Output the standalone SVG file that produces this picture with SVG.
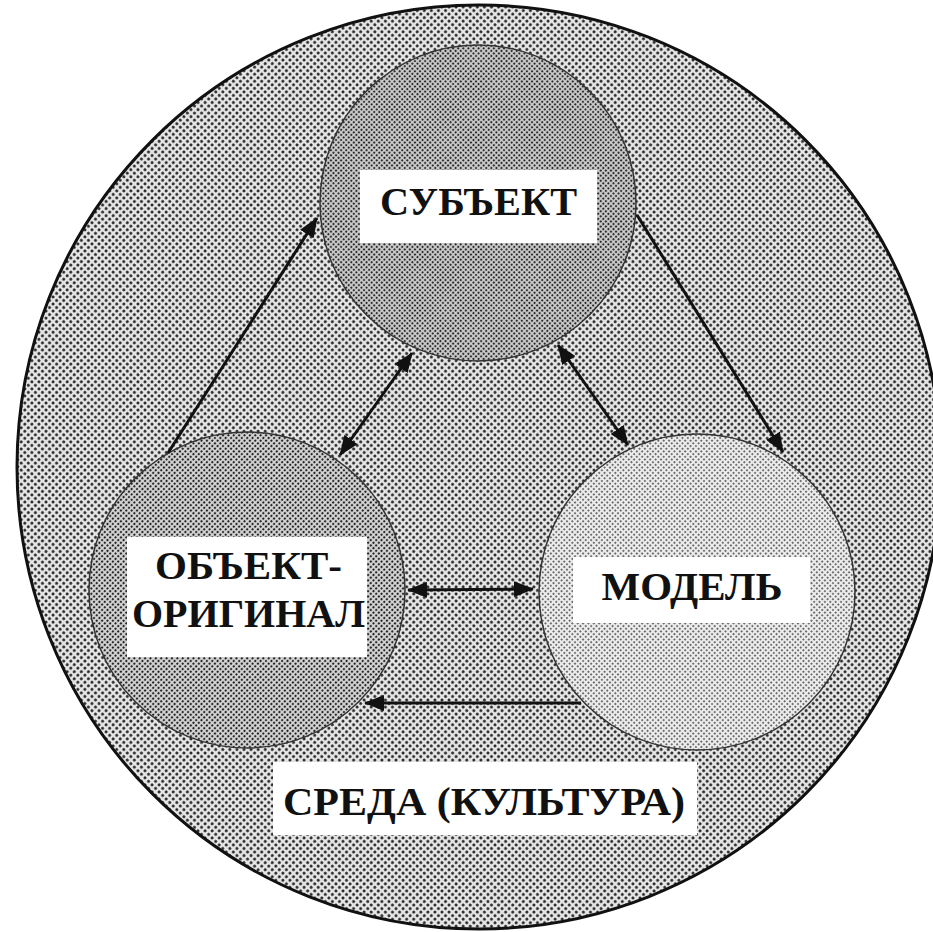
<svg xmlns="http://www.w3.org/2000/svg" width="933" height="932" viewBox="0 0 933 932">
<defs>
<pattern id="pOuter" width="5" height="5" patternUnits="userSpaceOnUse" patternTransform="rotate(45)">
<rect width="5" height="5" fill="#e6e6e6"/><circle cx="2.5" cy="2.5" r="1.45" fill="#1e1e1e"/>
</pattern>
<pattern id="pSubj" width="3.6" height="3.6" patternUnits="userSpaceOnUse" patternTransform="rotate(45)">
<rect width="3.6" height="3.6" fill="#cdcdcd"/><circle cx="1.8" cy="1.8" r="1.15" fill="#2a2a2a"/>
</pattern>
<pattern id="pObj" width="3.8" height="3.8" patternUnits="userSpaceOnUse" patternTransform="rotate(45)">
<rect width="3.8" height="3.8" fill="#d6d6d6"/><circle cx="1.9" cy="1.9" r="1.15" fill="#222"/>
</pattern>
<pattern id="pModel" width="3.8" height="3.8" patternUnits="userSpaceOnUse" patternTransform="rotate(45)">
<rect width="3.8" height="3.8" fill="#ececec"/><circle cx="1.9" cy="1.9" r="0.95" fill="#444"/>
</pattern>
<marker id="ah" markerUnits="userSpaceOnUse" markerWidth="20" markerHeight="16" viewBox="0 0 20 16" refX="19" refY="8" orient="auto-start-reverse">
<path d="M0,0 L20,8 L0,16 Z" fill="#111"/>
</marker>
</defs>
<style>
.lbl{font-family:"Liberation Serif","Times New Roman",serif;font-weight:bold;font-size:41px;fill:#111;text-anchor:middle}
.box{fill:#fff}
.node{stroke:#333;stroke-width:1.5}
.conn line{stroke:#111;stroke-width:3;fill:none}
</style>
<rect width="933" height="932" fill="#fff"/>
<g id="env">
<circle cx="479" cy="467" r="462" fill="url(#pOuter)" stroke="#111" stroke-width="3"/>
</g>
<g id="subject">
<circle class="node" cx="478" cy="203" r="158" fill="url(#pSubj)"/>
<rect class="box" x="360" y="170" width="237" height="73"/>
<text class="lbl" x="478.5" y="215" textLength="197" lengthAdjust="spacingAndGlyphs">СУБЪЕКТ</text>
</g>
<g id="object">
<circle class="node" cx="247" cy="590" r="158" fill="url(#pObj)"/>
<rect class="box" x="127" y="537" width="240" height="120"/>
<text class="lbl" x="248.5" y="579" textLength="187" lengthAdjust="spacingAndGlyphs">ОБЪЕКТ-</text>
<text class="lbl" x="248.5" y="627" textLength="233" lengthAdjust="spacingAndGlyphs">ОРИГИНАЛ</text>
</g>
<g id="model">
<circle class="node" cx="697" cy="592" r="158" fill="url(#pModel)"/>
<rect class="box" x="573" y="557" width="237" height="66"/>
<text class="lbl" x="692" y="600" textLength="181" lengthAdjust="spacingAndGlyphs">МОДЕЛЬ</text>
</g>
<g id="envlabel">
<rect class="box" x="273" y="762" width="424" height="73"/>
<text class="lbl" x="484" y="815" textLength="402" lengthAdjust="spacingAndGlyphs">СРЕДА (КУЛЬТУРА)</text>
</g>
<g class="conn" id="connectors">
<line x1="168" y1="453" x2="317" y2="218" marker-end="url(#ah)"/>
<line x1="637" y1="215" x2="783" y2="452" marker-end="url(#ah)"/>
<line x1="340" y1="455" x2="412" y2="353" marker-start="url(#ah)" marker-end="url(#ah)"/>
<line x1="558" y1="345" x2="628" y2="445" marker-start="url(#ah)" marker-end="url(#ah)"/>
<line x1="408" y1="590" x2="533" y2="589" marker-start="url(#ah)" marker-end="url(#ah)"/>
<line x1="581" y1="703" x2="365" y2="703" marker-end="url(#ah)"/>
</g>
</svg>
